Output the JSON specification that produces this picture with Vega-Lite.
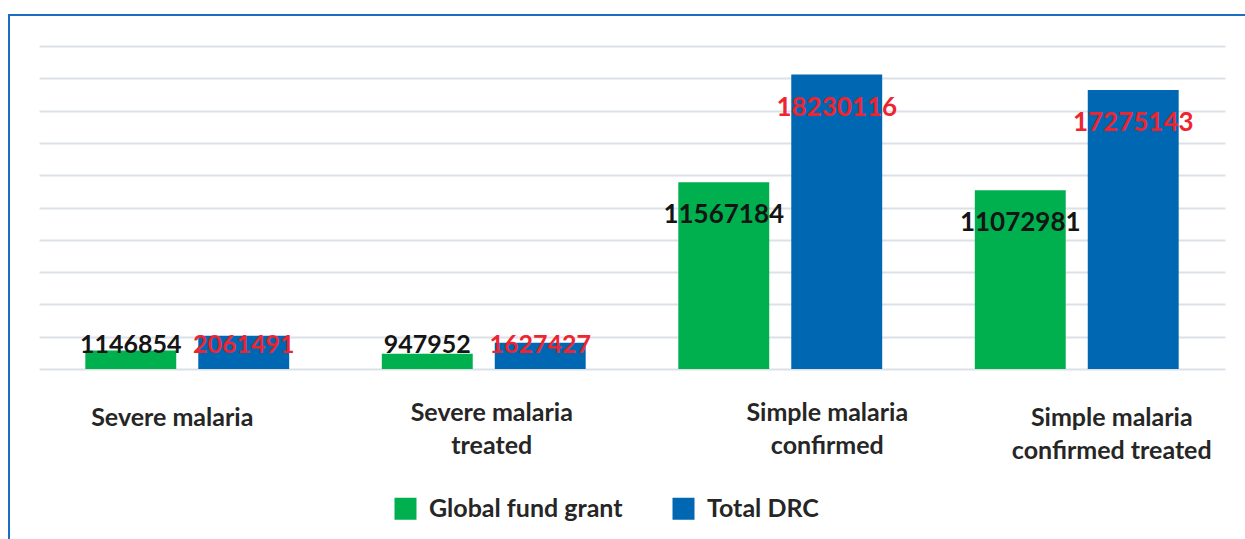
{
  "$schema": "https://vega.github.io/schema/vega-lite/v6.json",
  "width": 1241,
  "height": 529,
  "autosize": {"type": "none"},
  "padding": {"left": 9, "top": 15, "right": -5, "bottom": -5},
  "background": "white",
  "config": {
    "view": {"stroke": "#1B6EC2", "strokeWidth": 2},
    "font": "Lato"
  },
  "data": {
    "values": [
      {"category": "Severe malaria", "series": "Global fund grant", "value": 1146854},
      {"category": "Severe malaria", "series": "Total DRC", "value": 2061491},
      {"category": "Severe malaria treated", "series": "Global fund grant", "value": 947952},
      {"category": "Severe malaria treated", "series": "Total DRC", "value": 1627427},
      {"category": "Simple malaria confirmed", "series": "Global fund grant", "value": 11567184},
      {"category": "Simple malaria confirmed", "series": "Total DRC", "value": 18230116},
      {"category": "Simple malaria confirmed treated", "series": "Global fund grant", "value": 11072981},
      {"category": "Simple malaria confirmed treated", "series": "Total DRC", "value": 17275143}
    ]
  },
  "encoding": {
    "x": {
      "field": "category",
      "type": "nominal",
      "sort": ["Severe malaria", "Severe malaria treated", "Simple malaria confirmed", "Simple malaria confirmed treated"],
      "scale": {"range": [30, 1216], "paddingInner": 0, "paddingOuter": 0},
      "axis": {
        "title": null,
        "orient": "bottom",
        "offset": -175,
        "domain": false,
        "ticks": false,
        "grid": false,
        "labelAngle": 0,
        "labelFont": "Lato",
        "labelFontSize": 25,
        "labelFontWeight": "bold",
        "labelColor": "#262626",
        "labelBaseline": "top",
        "labelLineHeight": 33,
        "labelLimit": 400,
        "labelOffset": {
          "condition": [
            {"test": "datum.value == 'Severe malaria'", "value": -15},
            {"test": "datum.value == 'Severe malaria treated'", "value": 8},
            {"test": "datum.value == 'Simple malaria confirmed'", "value": 47}
          ],
          "value": 35
        },
        "labelPadding": {
          "condition": [
            {"test": "datum.value == 'Severe malaria'", "value": 36},
            {"test": "datum.value == 'Simple malaria confirmed treated'", "value": 36}
          ],
          "value": 31
        },
        "labelExpr": "datum.label == 'Severe malaria' ? 'Severe malaria' : datum.label == 'Severe malaria treated' ? ['Severe malaria', 'treated'] : datum.label == 'Simple malaria confirmed' ? ['Simple malaria', 'confirmed'] : ['Simple malaria', 'confirmed treated']"
      }
    },
    "xOffset": {
      "field": "series",
      "type": "nominal",
      "sort": ["Global fund grant", "Total DRC"],
      "scale": {"paddingInner": 0.195, "paddingOuter": 0.41}
    },
    "y": {
      "field": "value",
      "type": "quantitative",
      "scale": {"domain": [0, 20000000], "range": [354, 31], "nice": false, "zero": true},
      "axis": {
        "title": null,
        "labels": false,
        "ticks": false,
        "domain": false,
        "grid": true,
        "values": [0, 2000000, 4000000, 6000000, 8000000, 10000000, 12000000, 14000000, 16000000, 18000000, 20000000],
        "gridColor": "#DCE1E8",
        "gridWidth": 2
      }
    }
  },
  "layer": [
    {
      "mark": {"type": "bar"},
      "encoding": {
        "color": {
          "field": "series",
          "type": "nominal",
          "sort": ["Global fund grant", "Total DRC"],
          "scale": {"domain": ["Global fund grant", "Total DRC"], "range": ["#00B04F", "#0067B2"]},
          "legend": {
            "title": null,
            "orient": "none",
            "legendX": 384,
            "legendY": 481,
            "direction": "horizontal",
            "symbolType": "square",
            "symbolSize": 484,
            "symbolStrokeWidth": 0,
            "symbolOpacity": 1,
            "labelFont": "Lato",
            "labelFontSize": 25,
            "labelFontWeight": "bold",
            "labelColor": "#262626",
            "labelOffset": 11,
            "columnPadding": 48,
            "labelLimit": 400
          }
        }
      }
    },
    {
      "transform": [{"filter": "datum.value >= 5000000"}],
      "mark": {"type": "text", "baseline": "middle", "align": "center", "dy": 33, "font": "Lato", "fontSize": 26, "fontWeight": "bold"},
      "encoding": {
        "text": {"field": "value", "type": "quantitative", "format": "d"},
        "color": {"condition": {"test": "datum.series == 'Total DRC'", "value": "#EE2530"}, "value": "#151515"}
      }
    },
    {
      "transform": [{"filter": "datum.value < 5000000"}],
      "mark": {"type": "text", "baseline": "middle", "align": "center", "font": "Lato", "fontSize": 25, "fontWeight": "bold"},
      "encoding": {
        "y": {"datum": 1500000, "type": "quantitative"},
        "text": {"field": "value", "type": "quantitative", "format": "d"},
        "color": {"condition": {"test": "datum.series == 'Total DRC'", "value": "#EE2530"}, "value": "#151515"}
      }
    }
  ]
}
